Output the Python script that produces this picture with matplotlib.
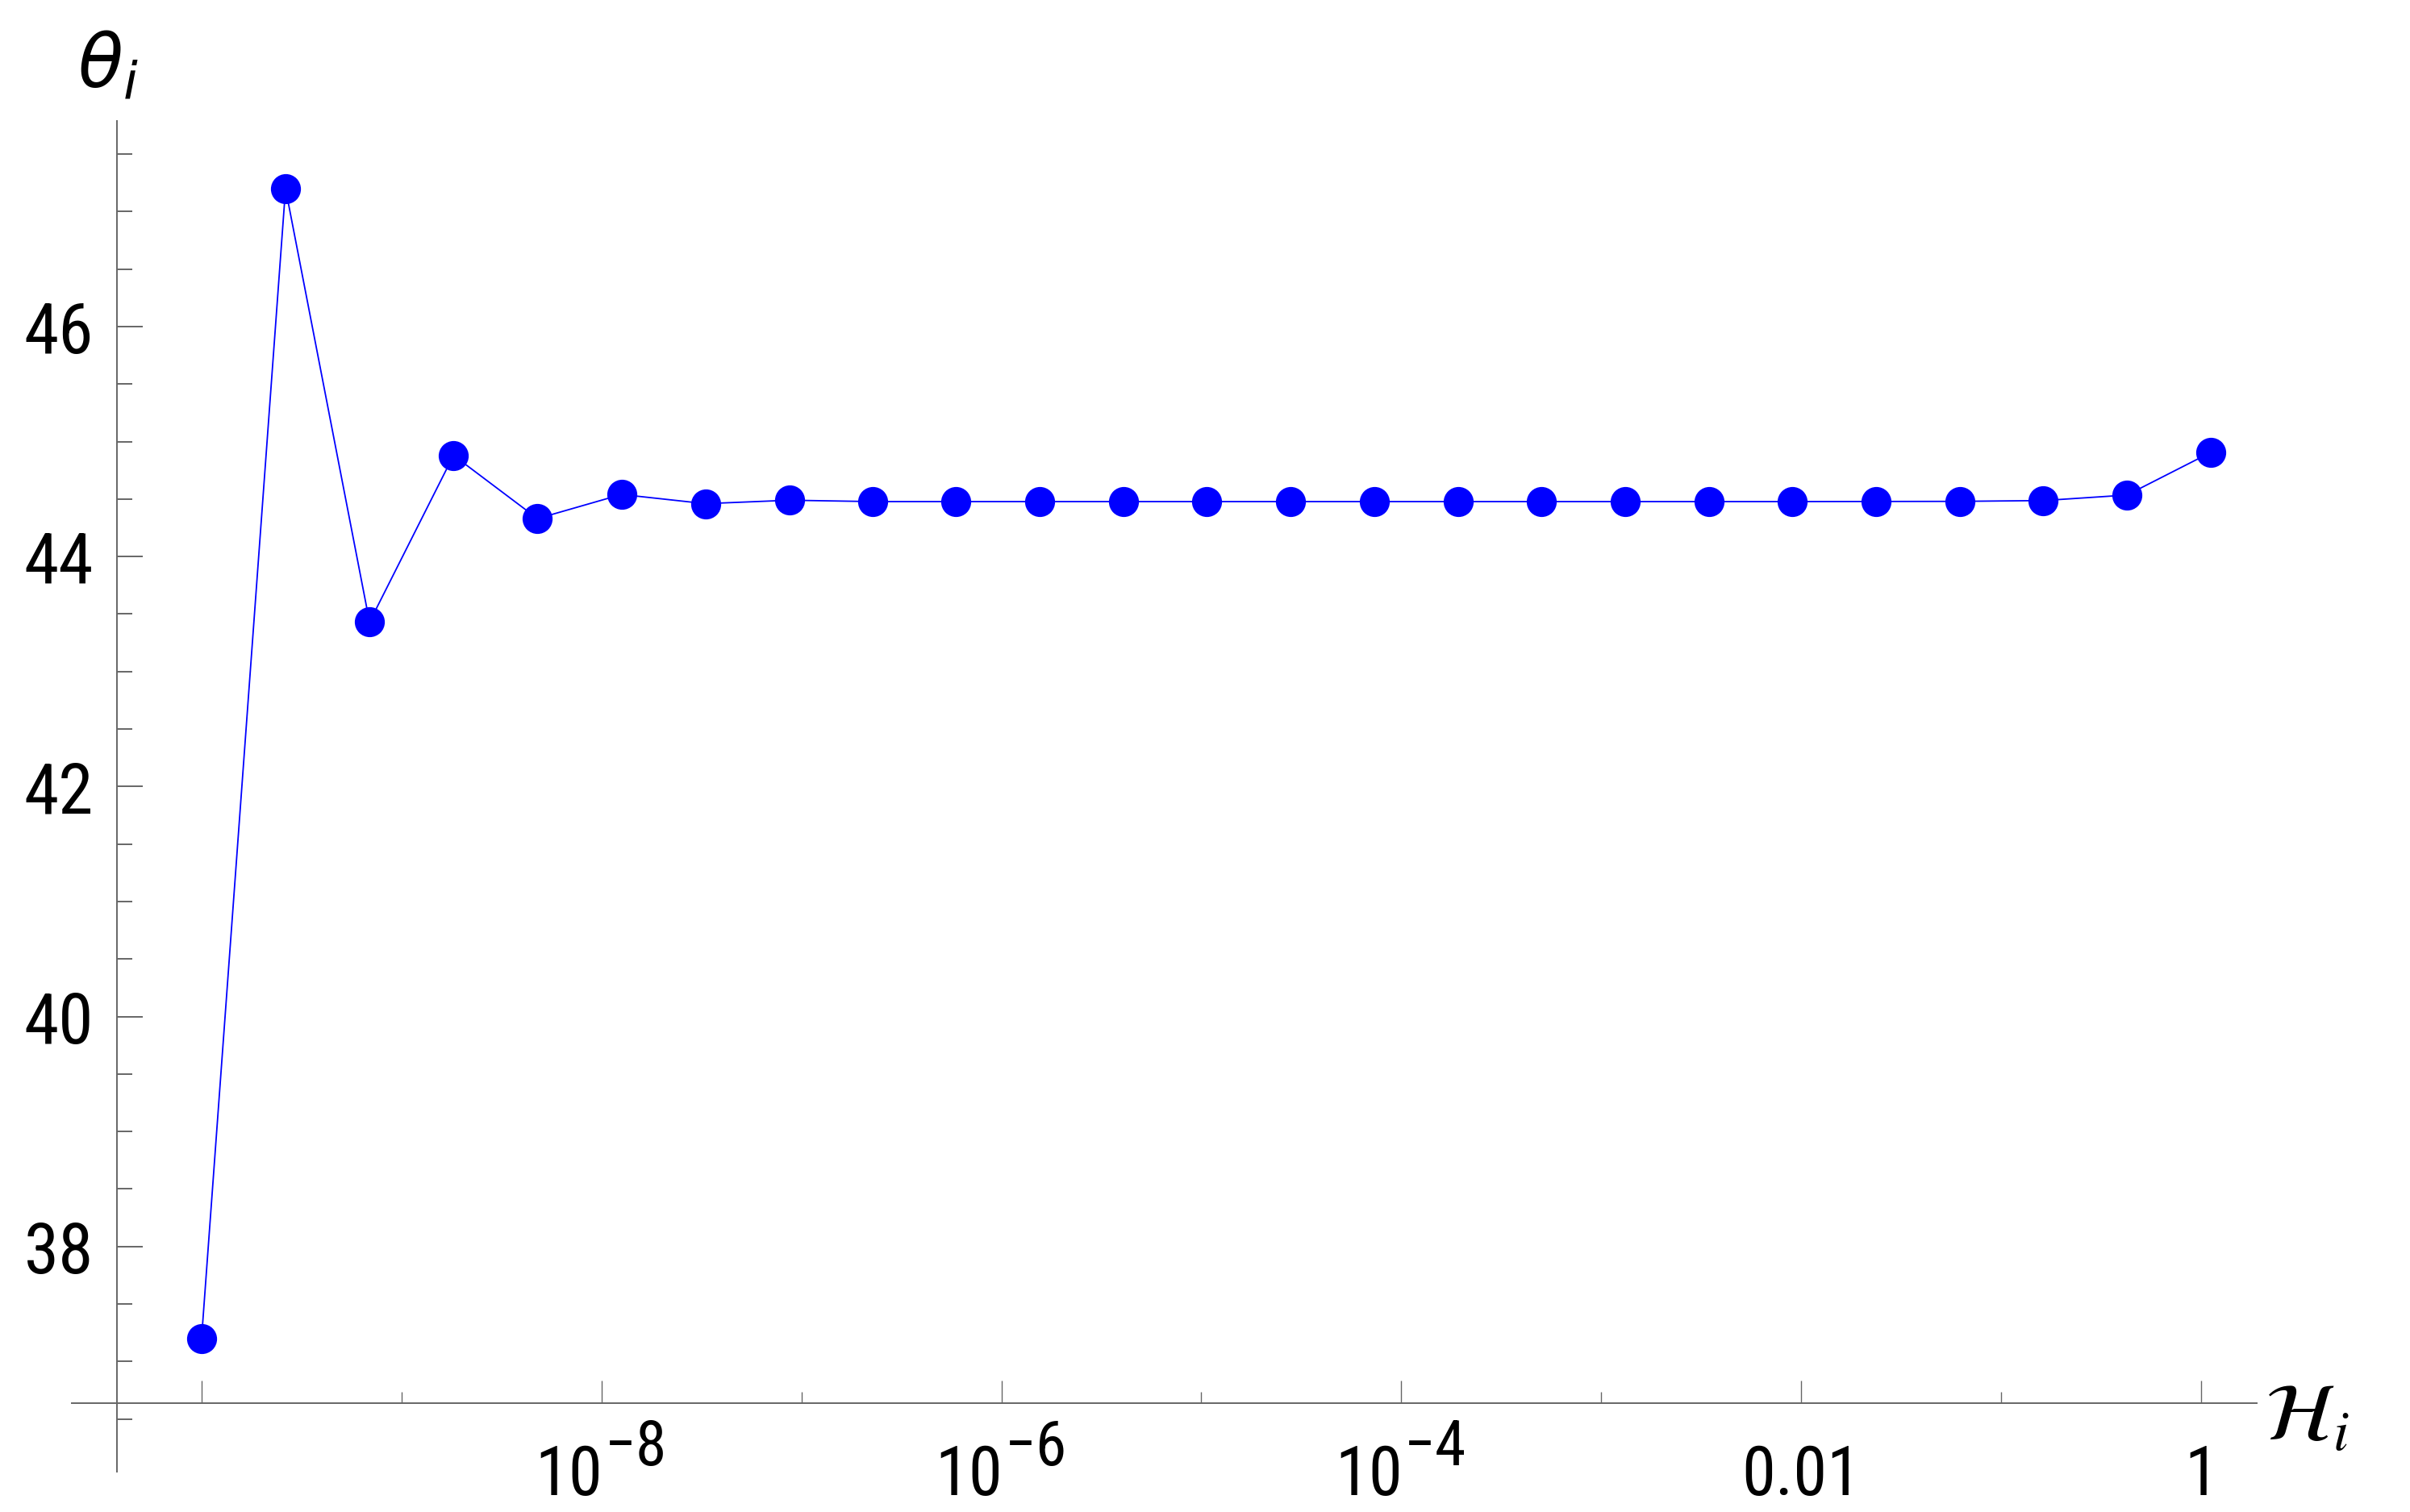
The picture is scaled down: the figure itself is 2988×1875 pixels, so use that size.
import numpy as np
import matplotlib
matplotlib.use("Agg")
import matplotlib.pyplot as plt
from matplotlib.ticker import FixedLocator, NullFormatter

plt.rcParams['font.family'] = ['Liberation Sans Narrow', 'Roboto Condensed',
                               'Liberation Sans', 'DejaVu Sans']

# data (x as log10 of H_i)
log_h = [-10.0, -9.58, -9.16, -8.74, -8.32, -7.90, -7.48, -7.06, -6.645, -6.227,
         -5.808, -5.390, -4.972, -4.554, -4.135, -3.717, -3.299, -2.881, -2.462,
         -2.044, -1.626, -1.208, -0.789, -0.371, 0.047]
theta = [37.20, 47.20, 43.43, 44.88, 44.33, 44.54, 44.46, 44.49, 44.478, 44.478,
         44.478, 44.478, 44.478, 44.478, 44.478, 44.478, 44.478, 44.478, 44.478,
         44.478, 44.479, 44.480, 44.487, 44.535, 44.905]

x_major = [-10, -8, -6, -4, -2, 0]
x_major_labels = [None, ('10', '\u22128'), ('10', '\u22126'), ('10', '\u22124'), '0.01', '1']
x_minor = [-9, -7, -5, -3, -1]
y_major = [38, 40, 42, 44, 46]
y_minor = [36.5, 37, 37.5, 38.5, 39, 39.5, 40.5, 41, 41.5, 42.5, 43, 43.5,
           44.5, 45, 45.5, 46.5, 47, 47.5]

W, H, dpi = 2988, 1875, 200
fig = plt.figure(figsize=(W / dpi, H / dpi), dpi=dpi)
ax = fig.add_axes([89 / W, (H - 1825) / H, (2798 - 89) / W, (1825 - 150) / H])

xs = 10.0 ** np.array(log_h)
ax.plot(xs, theta, color='#0000ff', lw=0.65, marker='o', ms=12.4,
        mec='#0000ff', mfc='#0000ff', clip_on=False)

ax.set_xscale('log')
ax.set_xlim(10 ** -10.649, 10 ** 0.278)
ax.set_ylim(36.042, 47.788)

axis_col = '#666666'
x_cross = 36.64
for s in ['top', 'right']:
    ax.spines[s].set_visible(False)
ax.spines['left'].set_position(('data', 10 ** -10.424))
ax.spines['bottom'].set_position(('data', x_cross))
for s in ['left', 'bottom']:
    ax.spines[s].set_color(axis_col)
    ax.spines[s].set_linewidth(0.7)

ax.xaxis.set_major_locator(FixedLocator([10.0 ** e for e in x_major]))
ax.xaxis.set_minor_locator(FixedLocator([10.0 ** e for e in x_minor]))
ax.xaxis.set_minor_formatter(NullFormatter())
ax.yaxis.set_major_locator(FixedLocator(y_major))
ax.yaxis.set_minor_locator(FixedLocator(y_minor))
ax.set_yticklabels([str(v) for v in y_major])

ax.tick_params(axis='x', which='major', direction='in', length=10, width=0.5,
               color=axis_col, labelbottom=False)
ax.tick_params(axis='x', which='minor', direction='in', length=5, width=0.5,
               color=axis_col)
ax.tick_params(axis='y', which='major', direction='in', length=11.5, width=0.7,
               color=axis_col, labelsize=31.5, pad=10.4)
ax.tick_params(axis='y', which='minor', direction='in', length=6.8, width=0.7,
               color=axis_col)

# x tick labels with baseline alignment, like the original
for e, lab in zip(x_major, x_major_labels):
    if lab is None:
        continue
    if isinstance(lab, tuple):
        ax.annotate(lab[0], xy=(10.0 ** e, x_cross), xytext=(0.6, -41.1),
                    textcoords='offset points', ha='right', va='baseline',
                    fontsize=30.5, annotation_clip=False)
        ax.annotate(lab[1], xy=(10.0 ** e, x_cross), xytext=(1.4, -27.8),
                    textcoords='offset points', ha='left', va='baseline',
                    fontsize=28, annotation_clip=False)
    else:
        ax.annotate(lab, xy=(10.0 ** e, x_cross), xytext=(0, -41.1),
                    textcoords='offset points', ha='center', va='baseline',
                    fontsize=30.5, annotation_clip=False)

fig.text(96 / W, 1 - 108 / H, r'$\theta_i$', fontsize=33, ha='left', va='baseline',
         math_fontfamily='dejavusans')
fig.text(2808 / W, 1 - 1786 / H, r'$\mathcal{H}_i$', fontsize=36, ha='left',
         va='baseline', math_fontfamily='stix')

fig.savefig('out.png', dpi=dpi)
